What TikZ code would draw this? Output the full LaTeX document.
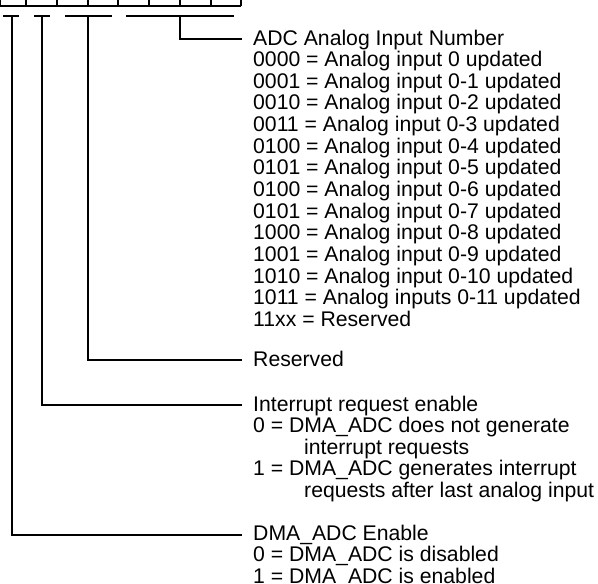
\documentclass[tikz,border=0pt]{standalone}
\usepackage{fontspec}
\setmainfont{Liberation Sans}
\begin{document}
\begin{tikzpicture}[x=1pt,y=-1pt,
  reg/.style={line width=1.2pt},
  conn/.style={line width=1.2pt, line join=miter},
  desc/.style={anchor=base west, inner sep=0pt, font=\fontsize{21.2}{21}\selectfont}]
\useasboundingbox (0,0) rectangle (598,584);
% register cells
\draw[reg] (0,6) -- (241,6);
\foreach \x in {0.6,26,57,88,118,149,180,211,241} \draw[reg] (\x,0) -- (\x,6);
% brackets
\coordinate (b1l) at (3,16); \coordinate (b1r) at (19,16);
\coordinate (b2l) at (34,16); \coordinate (b2r) at (50,16);
\coordinate (b3l) at (65,16); \coordinate (b3r) at (112,16);
\coordinate (b4l) at (126,16); \coordinate (b4r) at (234,16);
\foreach \a/\b in {b1l/b1r,b2l/b2r,b3l/b3r,b4l/b4r} \draw[reg] (\a) -- (\b);
\coordinate (t1) at (12,16);
\coordinate (t2) at (42,16);
\coordinate (t3) at (88,16);
\coordinate (t4) at (180,16);
% connector ends
\coordinate (e4) at (242,39);
\coordinate (e3) at (242,360);
\coordinate (e2) at (242,405);
\coordinate (e1) at (242,535);
\draw[conn] (t4) |- (e4);
\draw[conn] (t3) |- (e3);
\draw[conn] (t2) |- (e2);
\draw[conn] (t1) |- (e1);
% descriptions
\node[desc] (d4) at (253,45) {\begin{tabular}[t]{@{}l@{}}
ADC Analog Input Number\\
0000 = Analog input 0 updated\\
0001 = Analog input 0-1 updated\\
0010 = Analog input 0-2 updated\\
0011 = Analog input 0-3 updated\\
0100 = Analog input 0-4 updated\\
0101 = Analog input 0-5 updated\\
0100 = Analog input 0-6 updated\\
0101 = Analog input 0-7 updated\\
1000 = Analog input 0-8 updated\\
1001 = Analog input 0-9 updated\\
1010 = Analog input 0-10 updated\\
1011 = Analog inputs 0-11 updated\\
11xx = Reserved
\end{tabular}};
\node[desc] (d3) at (253,366) {Reserved};
\node[desc] (d2) at (253,411) {\begin{tabular}[t]{@{}l@{}}
Interrupt request enable\\
0 = DMA\_ADC does not generate\\
\hspace*{51pt}interrupt requests\\
1 = DMA\_ADC generates interrupt\\
\hspace*{51pt}requests after last analog input
\end{tabular}};
\node[desc] (d1) at (253,540) {\begin{tabular}[t]{@{}l@{}}
DMA\_ADC Enable\\
0 = DMA\_ADC is disabled\\
1 = DMA\_ADC is enabled
\end{tabular}};
\end{tikzpicture}
\end{document}
